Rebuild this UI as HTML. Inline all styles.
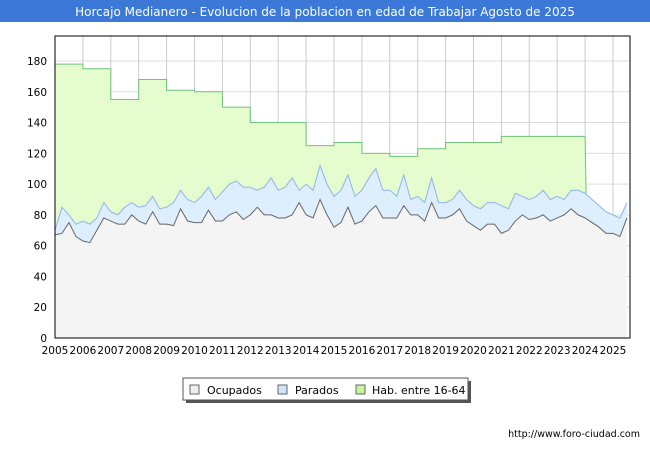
<!DOCTYPE html>
<html><head><meta charset="utf-8"><style>
body{margin:0;background:#fff;font-family:"DejaVu Sans","Liberation Sans",sans-serif}
#wrap{position:relative;width:650px;height:450px;overflow:hidden}
</style></head><body>
<div id="wrap">
<svg id="svg" width="650" height="450" xmlns="http://www.w3.org/2000/svg" font-family="DejaVu Sans, Liberation Sans, sans-serif">
<rect x="0" y="0" width="650" height="22" fill="#3b78d8"/>
<text x="325" y="16" text-anchor="middle" font-size="12" fill="#fff">Horcajo Medianero - Evolucion de la poblacion en edad de Trabajar Agosto de 2025</text>
<g id="grid"></g>
<g id="series"></g>
<g id="axes"></g>
<g>
<rect x="186" y="381" width="285" height="22" fill="#555"/>
<rect x="183" y="378" width="285" height="22" fill="#fff" stroke="#555"/>
<rect x="190" y="385" width="9" height="9" fill="#eee" stroke="#666"/>
<text x="207" y="394" font-size="11" fill="#000">Ocupados</text>
<rect x="278" y="385" width="9" height="9" fill="#cfe3fb" stroke="#666"/>
<text x="295" y="394" font-size="11" fill="#000">Parados</text>
<rect x="356" y="385" width="9" height="9" fill="#c8f2a0" stroke="#666"/>
<text x="372" y="394" font-size="11" fill="#000">Hab. entre 16-64</text>
</g>
<text x="640" y="437" text-anchor="end" font-size="9.5" fill="#000">http://www.foro-ciudad.com</text>
</svg></div>
<script>
const years=[2005,2006,2007,2008,2009,2010,2011,2012,2013,2014,2015,2016,2017,2018,2019,2020,2021,2022,2023,2024,2025];
const yTicks=[0,20,40,60,80,100,120,140,160,180];
const habYearly=[178,175,155,168,161,160,150,140,140,125,127,120,118,123,127,127,131,131,131];
const ocupados=[67,68,75,66,63,62,70,78,76,74,74,80,76,74,82,74,74,73,84,76,75,75,83,76,76,80,82,77,80,85,80,80,78,78,80,88,80,78,90,80,72,75,85,74,76,82,86,78,78,78,86,80,80,76,88,78,78,80,84,76,73,70,74,74,68,70,76,80,77,78,80,76,78,80,84,80,78,75,72,68,68,66,78];
const parados=[70,85,80,74,76,74,78,88,82,80,85,88,85,86,92,84,85,88,96,90,88,92,98,90,95,100,102,98,98,96,98,104,96,98,104,96,100,96,112,100,92,96,106,92,96,104,110,96,96,92,106,90,92,88,104,88,88,90,96,90,86,84,88,88,86,84,94,92,90,92,96,90,92,90,96,96,94,90,86,82,80,78,88];
const NS='http://www.w3.org/2000/svg';
const X0=55,X1=630,Y0=338,YT=36;
const xs=t=>X0+(t-2005)*27.9;
const ys=v=>Y0-v*(338-61)/180;
function mk(tag,attrs,parent,name){const e=document.createElementNS(NS,tag);for(const k in attrs)e.setAttribute(k,attrs[k]);


parent.appendChild(e);return e;}
const grid=document.getElementById('grid'),ser=document.getElementById('series'),ax=document.getElementById('axes');
mk('rect',{x:X0,y:YT,width:X1-X0,height:Y0-YT,fill:'#fff'},grid,'plot-area');
yTicks.forEach(v=>{mk('line',{x1:X0,x2:X1,y1:ys(v),y2:ys(v),stroke:'#ddd'},grid,'y-gridline');
const t=mk('text',{x:X0-8,y:ys(v)+4,'text-anchor':'end','font-size':10.5,fill:'#000'},ax,'y-tick-label');t.textContent=v;});
years.forEach(y=>{mk('line',{x1:xs(y),x2:xs(y),y1:YT,y2:Y0,stroke:'#ccc'},grid,'x-gridline');
const t=mk('text',{x:xs(y),y:Y0+16,'text-anchor':'middle','font-size':10.5,fill:'#000'},ax,'x-tick-label');t.textContent=y;});
let hp=`M${xs(2005)},${Y0}`;habYearly.forEach((v,i)=>{hp+=` L${xs(2005+i)},${ys(v)} L${xs(2006+i)},${ys(v)}`;});
const endT=2005+habYearly.length;
hp+=` L${xs(endT)+1},${ys(parados[(endT-2005)*4])} L${xs(endT)+1},${Y0} Z`;
mk('path',{d:hp,fill:'#e4fcce'},ser,'hab-area');
let hl=`M${xs(2005)},${ys(habYearly[0])}`;habYearly.forEach((v,i)=>{hl+=` L${xs(2005+i)},${ys(v)} L${xs(2006+i)},${ys(v)}`;});
hl+=` L${xs(endT)+1},${ys(parados[(endT-2005)*4])}`;
mk('path',{d:hl,fill:'none',stroke:'#6fc37a','stroke-width':1},ser,'hab-line');
function line(arr){return arr.map((v,i)=>`${i?'L':'M'}${Math.min(xs(2005+i*0.25),X1)},${ys(v)}`).join(' ');}
const tEnd=Math.min(xs(2005+(parados.length-1)*0.25),X1);
mk('path',{d:line(parados)+` L${tEnd},${Y0} L${X0},${Y0} Z`,fill:'#ddeeff'},ser,'parados-area');
mk('path',{d:line(parados),fill:'none',stroke:'#90b4ee','stroke-width':1},ser,'parados-line');
mk('path',{d:line(ocupados)+` L${tEnd},${Y0} L${X0},${Y0} Z`,fill:'#f4f4f4'},ser,'ocupados-area');
mk('path',{d:line(ocupados),fill:'none',stroke:'#666','stroke-width':1},ser,'ocupados-line');
mk('rect',{x:X0,y:YT,width:X1-X0,height:Y0-YT,fill:'none',stroke:'#000'},ax,'plot-border');
</script>
</body></html>
